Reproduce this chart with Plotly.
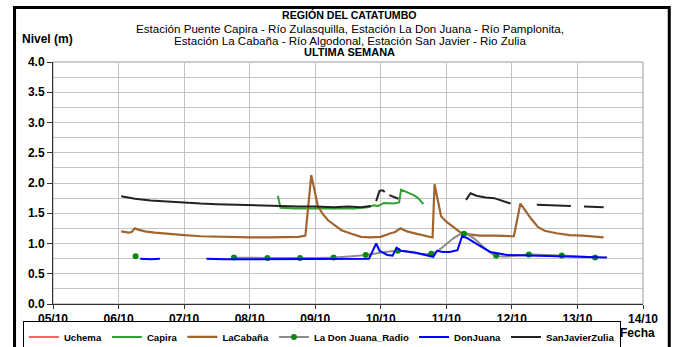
import pandas as pd
import plotly.graph_objects as go

# Day of October (fractional) for each reading; None marks a gap in the record
capira_dia = [8.43, 8.47, 8.7, 9.0, 9.3, 9.6, 9.8, 9.9, 9.96, 10.05, 10.2, 10.28,
              10.31, 10.42, 10.5, 10.57, 10.65]
capira_nivel = [1.79, 1.59, 1.58, 1.58, 1.58, 1.58, 1.60, 1.63, 1.62, 1.67, 1.66, 1.68,
                1.89, 1.84, 1.80, 1.75, 1.65]

cabana_dia = [6.04, 6.15, 6.2, 6.25, 6.3, 6.4, 6.55, 6.74, 7.0, 7.25, 7.5, 7.75, 8.02,
              8.3, 8.53, 8.75, 8.85, 8.94, 9.04, 9.12, 9.2, 9.3, 9.4, 9.55, 9.7, 9.85,
              10.0, 10.15, 10.22, 10.3, 10.4, 10.55, 10.7, 10.79, 10.82, 10.92, 11.0,
              11.1, 11.22, 11.35, 11.5, 11.75, 11.95, 12.03, 12.13, 12.2, 12.3, 12.4,
              12.5, 12.68, 12.88, 13.08, 13.28, 13.4]
cabana_nivel = [1.20, 1.18, 1.19, 1.25, 1.23, 1.20, 1.18, 1.16, 1.14, 1.12, 1.11, 1.10, 1.10,
                1.10, 1.10, 1.11, 1.13, 2.13, 1.62, 1.48, 1.38, 1.30, 1.22, 1.16, 1.11, 1.10,
                1.11, 1.17, 1.19, 1.25, 1.20, 1.16, 1.12, 1.10, 1.98, 1.45, 1.36,
                1.28, 1.18, 1.15, 1.13, 1.13, 1.13, 1.12, 1.66, 1.55, 1.40, 1.27,
                1.21, 1.17, 1.14, 1.13, 1.11, 1.10]

radio_dia = [6.26, 6.77, 7.27, 7.76, 8.27, 8.77, 9.28, 9.77, 10.26, 10.77, 11.27, 11.76,
             12.26, 12.76, 13.27]
radio_nivel = [0.79, None, None, 0.77, 0.76, 0.76, 0.77, 0.81, 0.88, 0.83, 1.16, 0.80,
               0.82, 0.80, 0.77]

donjuana_dia = [6.33, 6.5, 6.63, 6.9, 7.34, 7.6, 8.0, 8.5, 9.0, 9.5, 9.82, 9.93, 9.98,
                10.1, 10.18, 10.24, 10.31, 10.52, 10.7, 10.8, 10.86, 10.95, 11.05, 11.17,
                11.24, 11.32, 11.48, 11.67, 11.93, 12.27, 12.67, 13.03, 13.45]
donjuana_nivel = [0.75, 0.74, 0.75, None, 0.75, 0.74, 0.74, 0.74, 0.74, 0.75, 0.75, 1.00, 0.88,
                  0.81, 0.80, 0.93, 0.88, 0.85, 0.80, 0.78, 0.88, 0.86, 0.86, 0.89,
                  1.12, 1.09, 0.98, 0.86, 0.81, 0.80, 0.79, 0.78, 0.77]

zulia_dia = [6.04, 6.25, 6.49, 6.75, 7.0, 7.25, 7.5, 7.75, 8.0, 8.27, 8.5, 8.75, 9.0,
             9.29, 9.5, 9.7, 9.85, 9.89, 9.93, 9.98, 10.03, 10.06, 10.1, 10.13, 10.2,
             10.27, 10.8, 11.3, 11.37, 11.46, 11.6, 11.73, 11.84, 11.98, 12.2, 12.38,
             12.6, 12.75, 12.9, 13.0, 13.1, 13.28, 13.4]
zulia_nivel = [1.78, 1.74, 1.71, 1.69, 1.68, 1.66, 1.65, 1.64, 1.63, 1.62, 1.61, 1.61, 1.61,
               1.60, 1.61, 1.60, 1.62, None, 1.70, 1.87, 1.88, 1.85, None, 1.80, 1.77,
               1.74, None, 1.72, 1.83, 1.79, 1.76, 1.75, 1.71, 1.66, None, 1.64,
               1.63, 1.62, 1.62, None, 1.61, 1.60, 1.60]

tick_dias = [5, 6, 7, 8, 9, 10, 11, 12, 13, 14]

origen = pd.Timestamp("2013-10-01")


def fechas(dias):
    return [origen + pd.Timedelta(days=d - 1) for d in dias]


FONT = "Liberation Sans, Arial, sans-serif"
GRID = "#c4c4c4"
W, H = 674, 347

fig = go.Figure()
fig.add_trace(go.Scatter(x=[None], y=[None], name="Uchema", mode="lines",
                         line=dict(color="#ff3030", width=1.5)))
fig.add_trace(go.Scatter(x=fechas(capira_dia), y=capira_nivel, name="Capira", mode="lines",
                         line=dict(color="#33a033", width=2)))
fig.add_trace(go.Scatter(x=fechas(cabana_dia), y=cabana_nivel, name="LaCabaña", mode="lines",
                         line=dict(color="#a0652e", width=2.2)))
fig.add_trace(go.Scatter(x=fechas(radio_dia), y=radio_nivel, name="La Don Juana_Radio",
                         mode="lines+markers", line=dict(color="#8c8c8c", width=2, shape="spline"),
                         marker=dict(color="#0a8a0a", size=6)))
fig.add_trace(go.Scatter(x=fechas(donjuana_dia), y=donjuana_nivel, name="DonJuana", mode="lines",
                         line=dict(color="#0000ff", width=2)))
fig.add_trace(go.Scatter(x=fechas(zulia_dia), y=zulia_nivel, name="SanJavierZulia", mode="lines",
                         line=dict(color="#222222", width=2)))

tick_fechas = fechas(tick_dias)

fig.update_layout(
    width=W, height=H, autosize=False,
    margin=dict(l=53, r=31, t=62, b=43, autoexpand=False),
    paper_bgcolor="white", plot_bgcolor="white",
    font=dict(family=FONT, size=11, color="black"),
    showlegend=True,
    legend=dict(orientation="h", x=-0.051, y=-0.072, xanchor="left", yanchor="top",
                bordercolor="black", borderwidth=1, bgcolor="white",
                font=dict(family=FONT, size=9.6, weight="bold"),
                itemwidth=30, tracegroupgap=0),
    xaxis=dict(type="date", range=[tick_fechas[0], tick_fechas[-1]],
               tickvals=tick_fechas, tickformat="%d/%m",
               showgrid=True, gridcolor=GRID, gridwidth=1,
               showline=True, linecolor="#333333", linewidth=1,
               ticks="outside", ticklen=4, tickcolor="#333333",
               tickfont=dict(family=FONT, size=12, weight="bold"), zeroline=False),
    yaxis=dict(range=[0, 4], dtick=0.5, tickformat=".1f",
               showgrid=True, gridcolor=GRID, gridwidth=1,
               minor=dict(dtick=0.25, showgrid=True, gridcolor=GRID, gridwidth=1),
               showline=True, linecolor="#333333", linewidth=1,
               ticks="outside", ticklen=5, tickcolor="#333333",
               tickfont=dict(family=FONT, size=12, weight="bold"), zeroline=False),
)

# plot border (top/right) and outer frame
fig.add_shape(type="rect", xref="paper", yref="paper", x0=0, x1=1, y0=0, y1=1,
              line=dict(color="#9a9a9a", width=1), layer="below")
fig.add_shape(type="rect", xref="paper", yref="paper", x0=-0.0652, x1=1.0445, y0=-0.2, y1=1.2255,
              line=dict(color="black", width=3))

titulos = [
    ("<b>REGIÓN DEL CATATUMBO</b>", 1.193, 10.6),
    ("Estación Puente Capira - Río Zulasquilla, Estación La Don Juana - Río Pamplonita,", 1.14, 11.6),
    ("Estación La Cabaña - Río Algodonal, Estación San Javier - Rio Zulia", 1.089, 11.6),
    ("<b>ULTIMA SEMANA</b>", 1.041, 11),
]
for texto, yy, tam in titulos:
    fig.add_annotation(text=texto, xref="paper", yref="paper", x=0.503, y=yy,
                       showarrow=False, xanchor="center", yanchor="middle",
                       font=dict(family=FONT, size=tam))

fig.add_annotation(text="<b>Nivel (m)</b>", xref="paper", yref="paper", x=-0.01, y=1.095,
                   showarrow=False, xanchor="center", yanchor="middle",
                   font=dict(family=FONT, size=12))
fig.add_annotation(text="<b>Fecha</b>", xref="paper", yref="paper", x=0.99, y=-0.12,
                   showarrow=False, xanchor="center", yanchor="middle",
                   font=dict(family=FONT, size=12))

fig.write_html("out.html")
